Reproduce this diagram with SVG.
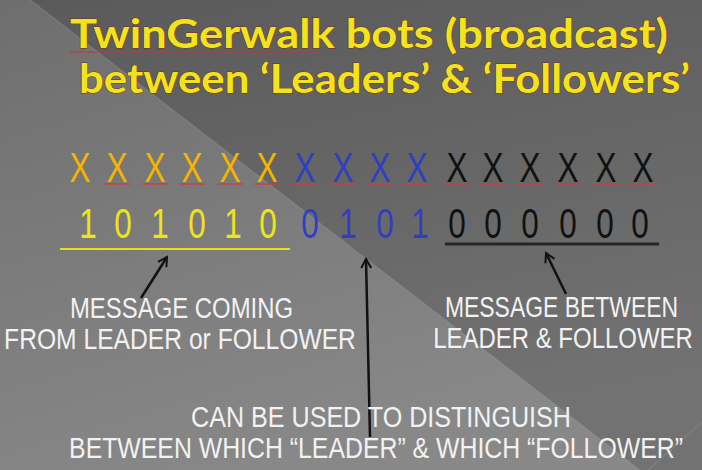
<svg xmlns="http://www.w3.org/2000/svg" width="702" height="470" viewBox="0 0 702 470">
<defs>
<linearGradient id="bg" x1="0" y1="0" x2="0.3" y2="1">
<stop offset="0" stop-color="#5a5a5a"/>
<stop offset="1" stop-color="#727272"/>
</linearGradient>
<linearGradient id="lt" x1="0" y1="0" x2="0.4" y2="1">
<stop offset="0" stop-color="#6e6e6e"/>
<stop offset="1" stop-color="#888888"/>
</linearGradient>
<marker id="ah" viewBox="0 0 12 12" refX="10" refY="6" markerWidth="12" markerHeight="12" markerUnits="userSpaceOnUse" orient="auto">
<path d="M1,1 L10,6 L1,11" fill="none" stroke="#111" stroke-width="2"/>
</marker>
<style>
.title{font-family:"Lato","Open Sans","DejaVu Sans",sans-serif;font-weight:bold;font-size:40px;fill:#f2e31c;stroke:#7a2e22;stroke-width:0.9px;paint-order:stroke}
.ch{font-family:"Liberation Sans","Arial",sans-serif;font-size:42px;text-anchor:middle}
.or{fill:#f5b400}.ye{fill:#eee41c}.bl{fill:#2f3fc0}.bk{fill:#111111}
.lab{font-family:"Liberation Sans","Arial",sans-serif;font-size:30px;fill:#f2f2f2;text-anchor:middle}
.sq{stroke:#d23a3a;stroke-width:1.2}
.arr{stroke:#111;stroke-width:2.5;fill:none;marker-end:url(#ah)}
</style>
</defs>
<g id="background">
<rect width="702" height="470" fill="url(#bg)"/>
<polygon points="0,0 30,0 640,470 0,470" fill="url(#lt)"/>
<line x1="30" y1="0" x2="640" y2="470" stroke="#9a9a9a" stroke-opacity="0.35" stroke-width="1.5"/>
<line x1="702" y1="422" x2="648" y2="470" stroke="#9a9a9a" stroke-opacity="0.3" stroke-width="1.5"/>
</g>
<g id="title">
<text class="title" x="70" y="48" textLength="598" lengthAdjust="spacingAndGlyphs">TwinGerwalk bots (broadcast)</text>
<line x1="70" y1="52" x2="318" y2="52" stroke="#c03838" stroke-width="1.2"/>
<text class="title" x="79" y="93" textLength="611" lengthAdjust="spacingAndGlyphs">between ‘Leaders’ &amp; ‘Followers’</text>
</g>
<g id="x-row">
<g transform="scale(0.75 1)">
<text class="ch or" x="106.7" y="182">X</text>
<text class="ch or" x="156" y="182">X</text>
<text class="ch or" x="206.7" y="182">X</text>
<text class="ch or" x="256" y="182">X</text>
<text class="ch or" x="306.7" y="182">X</text>
<text class="ch or" x="356" y="182">X</text>
<text class="ch bl" x="406.7" y="182">X</text>
<text class="ch bl" x="457.3" y="182">X</text>
<text class="ch bl" x="506.7" y="182">X</text>
<text class="ch bl" x="556" y="182">X</text>
<text class="ch bk" x="609.3" y="182">X</text>
<text class="ch bk" x="657.3" y="182">X</text>
<text class="ch bk" x="706.7" y="182">X</text>
<text class="ch bk" x="757.3" y="182">X</text>
<text class="ch bk" x="808" y="182">X</text>
<text class="ch bk" x="857.3" y="182">X</text>
</g>
<g class="sq">
<line x1="104" y1="184" x2="130" y2="184"/>
<line x1="142" y1="184" x2="168" y2="184"/>
<line x1="179" y1="184" x2="205" y2="184"/>
<line x1="217" y1="184" x2="243" y2="184"/>
<line x1="254" y1="184" x2="280" y2="184"/>
<line x1="292" y1="184" x2="318" y2="184"/>
<line x1="330" y1="184" x2="356" y2="184"/>
<line x1="367" y1="184" x2="393" y2="184"/>
<line x1="404" y1="184" x2="430" y2="184"/>
<line x1="444" y1="184" x2="470" y2="184"/>
<line x1="480" y1="184" x2="506" y2="184"/>
<line x1="517" y1="184" x2="543" y2="184"/>
<line x1="555" y1="184" x2="581" y2="184"/>
<line x1="593" y1="184" x2="619" y2="184"/>
<line x1="630" y1="184" x2="656" y2="184"/>
</g>
</g>
<g id="bit-row">
<g transform="scale(0.75 1)">
<text class="ch ye" x="117.3" y="238">1</text>
<text class="ch ye" x="164" y="238">0</text>
<text class="ch ye" x="213.3" y="238">1</text>
<text class="ch ye" x="262.7" y="238">0</text>
<text class="ch ye" x="310.7" y="238">1</text>
<text class="ch ye" x="357.3" y="238">0</text>
<text class="ch bl" x="413.3" y="238">0</text>
<text class="ch bl" x="464" y="238">1</text>
<text class="ch bl" x="513.3" y="238">0</text>
<text class="ch bl" x="560" y="238">1</text>
<text class="ch bk" x="609.3" y="238">0</text>
<text class="ch bk" x="657.3" y="238">0</text>
<text class="ch bk" x="706.7" y="238">0</text>
<text class="ch bk" x="757.3" y="238">0</text>
<text class="ch bk" x="806.7" y="238">0</text>
<text class="ch bk" x="853.3" y="238">0</text>
</g>
<line x1="60" y1="249" x2="290" y2="249" stroke="#e8de1a" stroke-width="2.2"/>
<line x1="445" y1="244" x2="659" y2="244" stroke="#262626" stroke-width="3"/>
</g>
<g id="connectors">
<line class="arr" x1="141" y1="298" x2="167" y2="257"/>
<line class="arr" x1="370" y1="437" x2="366" y2="259"/>
<line class="arr" x1="566" y1="294" x2="546" y2="253"/>
</g>
<g id="label-left">
<text class="lab" transform="translate(181.5 318) scale(0.78 1)" x="0" y="0" textLength="286" lengthAdjust="spacingAndGlyphs">MESSAGE COMING</text>
<text class="lab" transform="translate(180 349) scale(0.78 1)" x="0" y="0" textLength="451" lengthAdjust="spacingAndGlyphs">FROM LEADER or FOLLOWER</text>
</g>
<g id="label-right">
<text class="lab" transform="translate(561.5 317) scale(0.78 1)" x="0" y="0" textLength="299" lengthAdjust="spacingAndGlyphs">MESSAGE BETWEEN</text>
<text class="lab" transform="translate(563 348) scale(0.78 1)" x="0" y="0" textLength="333" lengthAdjust="spacingAndGlyphs">LEADER &amp; FOLLOWER</text>
</g>
<g id="label-bottom">
<text class="lab" transform="translate(381 427) scale(0.78 1)" x="0" y="0" textLength="487" lengthAdjust="spacingAndGlyphs">CAN BE USED TO DISTINGUISH</text>
<text class="lab" transform="translate(376 458) scale(0.78 1)" x="0" y="0" textLength="787" lengthAdjust="spacingAndGlyphs">BETWEEN WHICH “LEADER” &amp; WHICH “FOLLOWER”</text>
</g>
</svg>
